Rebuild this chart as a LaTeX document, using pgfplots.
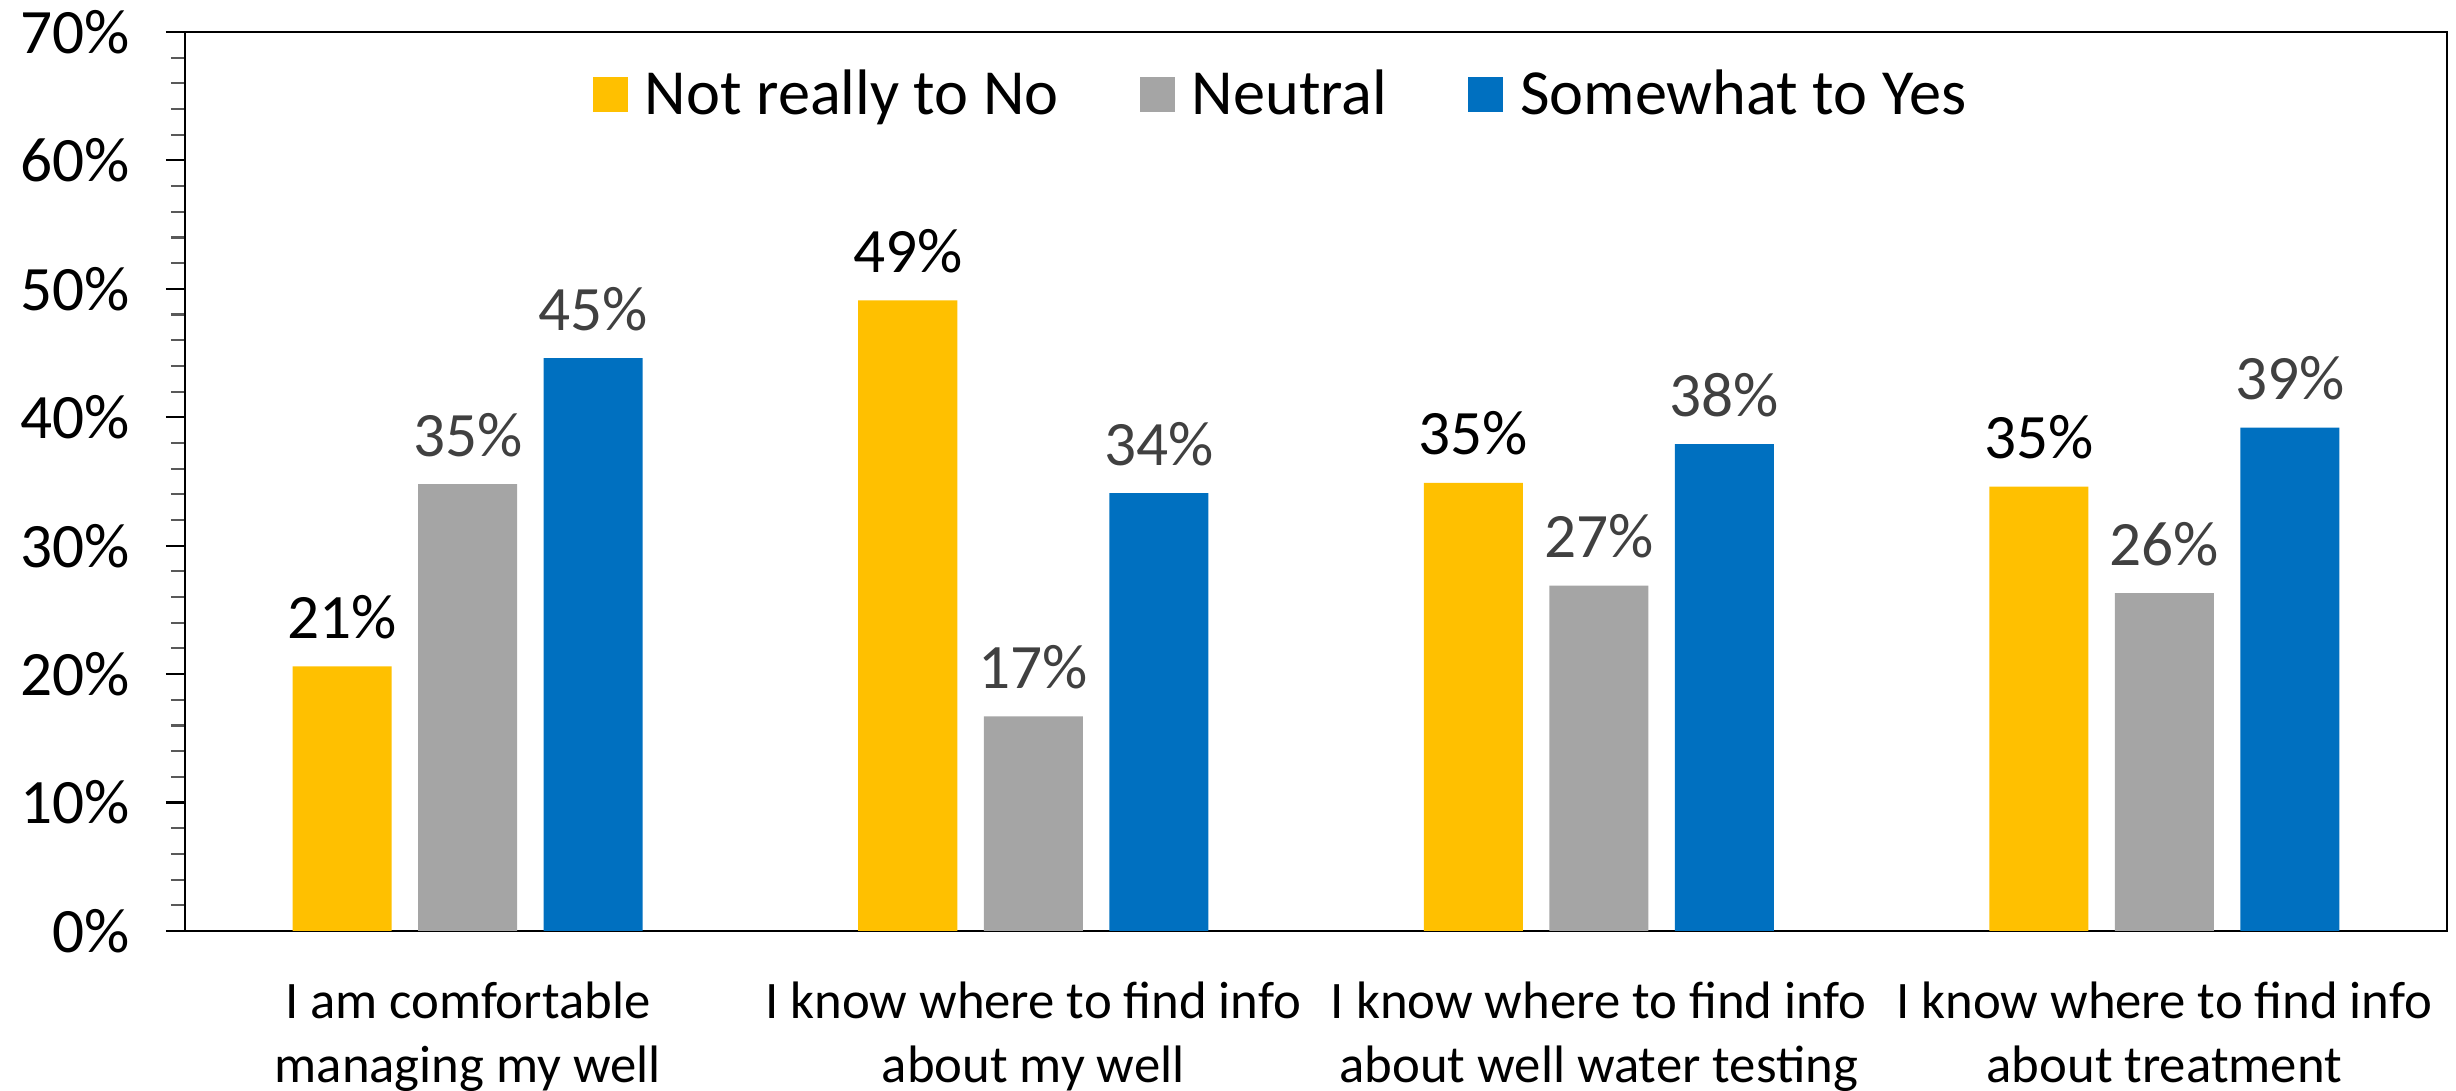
\documentclass[border=0pt]{standalone}
\usepackage{pgfplots}
\pgfplotsset{compat=1.18}
\usepackage{fontspec}
\setmainfont{Carlito}

\definecolor{cYellow}{HTML}{FFC000}
\definecolor{cGray}{HTML}{A5A5A5}
\definecolor{cBlue}{HTML}{0070C0}
\definecolor{cLabel}{HTML}{404040}
\definecolor{cMinor}{HTML}{595959}

\begin{document}
\begin{tikzpicture}
\begin{axis}[
    scale only axis,
    width=226.2mm,
    height=89.9mm,
    ybar=2.65mm,
    bar width=9.9mm,
    xmin=-0.5, xmax=3.5,
    ymin=0, ymax=70,
    xtick={0,1,2,3},
    xticklabels={{I am comfortable\\managing my well},
                 {I know where to find info\\about my well},
                 {I know where to find info\\about well water testing},
                 {I know where to find info\\about treatment}},
    xtick style={draw=none},
    xticklabel style={align=center, font=\fontsize{15}{18.3}\selectfont, anchor=base, yshift=-13.3mm},
    ytick={0,10,...,70},
    minor y tick num=4,
    ytick pos=left,
    tick align=outside,
    major tick length=1.9mm,
    minor tick length=1.4mm,
    major tick style={black, line width=0.6pt},
    minor tick style={cMinor, line width=0.6pt},
    yticklabel={\pgfmathprintnumber{\tick}\%},
    yticklabel style={font=\fontsize{18}{21}\selectfont, xshift=-2.4mm},
    /pgf/number format/assume math mode=true,
    axis line style={black, line width=0.6pt},
    nodes near coords={\pgfmathprintnumber[fixed, precision=0]{\pgfplotspointmeta}\%},
    nodes near coords style={font=\fontsize{18}{21}\selectfont, anchor=base, yshift=2.8mm, /pgf/number format/assume math mode=true},
    legend style={draw=none, fill=none, inner sep=0pt, legend columns=-1,
        at={(0.18,0.93)}, anchor=west,
        font=\fontsize{18.3}{21}\selectfont,
        /tikz/every odd column/.append style={column sep=1mm},
        /tikz/every even column/.append style={column sep=7.4mm}},
    legend image code/.code={\fill[#1] (0mm,-1.75mm) rectangle (3.5mm,1.75mm);},
]
\addplot[fill=cYellow, draw=none, nodes near coords style={text=black}] coordinates {
    (0,20.6) (1,49.1) (2,34.9) (3,34.6)
};
\addplot[fill=cGray, draw=none, nodes near coords style={text=cLabel}] coordinates {
    (0,34.8) (1,16.7) (2,26.9) (3,26.3)
};
\addplot[fill=cBlue, draw=none, nodes near coords style={text=cLabel}] coordinates {
    (0,44.6) (1,34.1) (2,37.9) (3,39.2)
};
\legend{Not really to No, Neutral, Somewhat to Yes}
\end{axis}
\pgfresetboundingbox
\path[use as bounding box] ([shift={(-18.5mm,-16.0mm)}]current axis.south west) rectangle ([shift={(0.9mm,3.2mm)}]current axis.north east);
\end{tikzpicture}
\end{document}
